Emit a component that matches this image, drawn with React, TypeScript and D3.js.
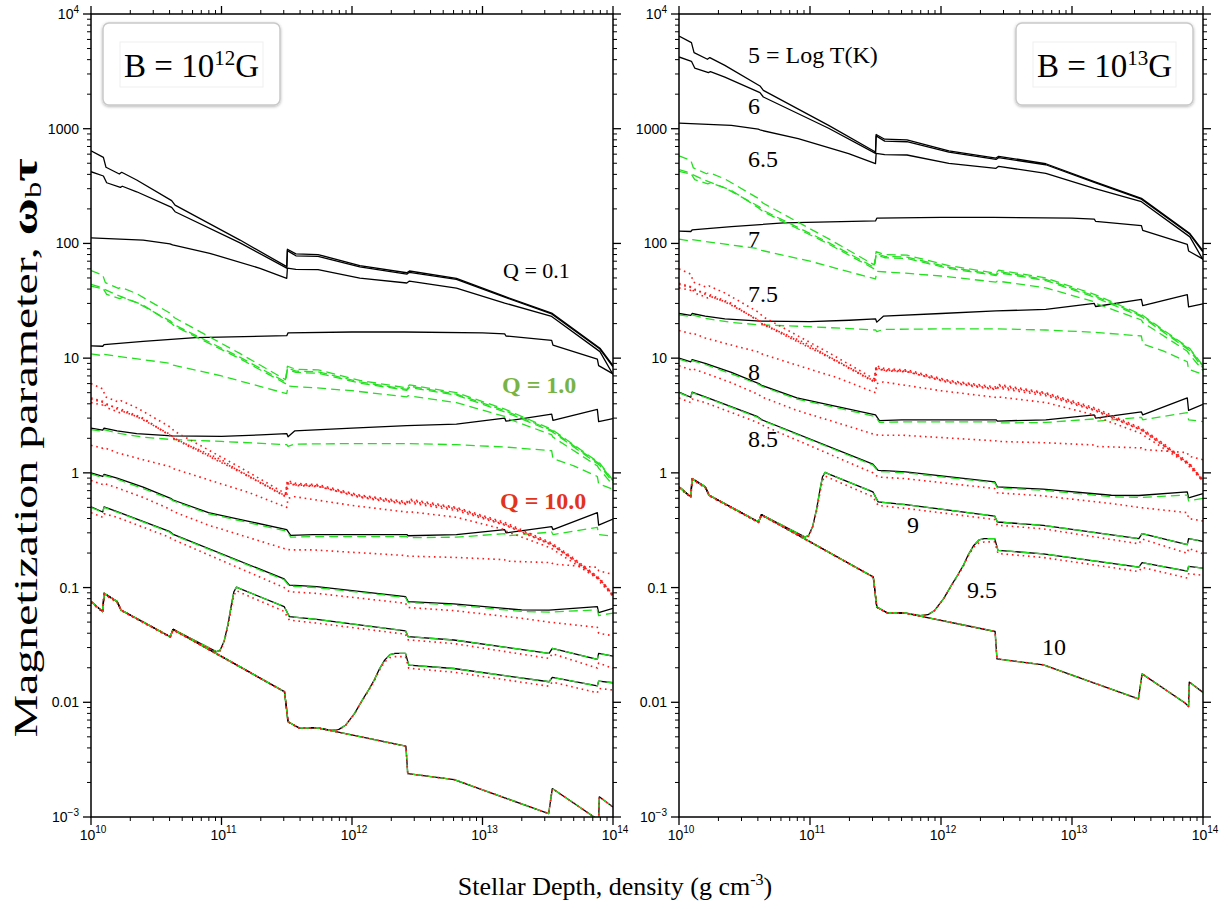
import React from "react";
import * as d3 from "d3";

type Pt = [number, number]; // [log10 density (g cm^-3), omega_b * tau at B = 1e12 G]

const W = 1230;
const H = 909;
const TOP = 14;
const BOTTOM = 817;
const PANELS = [
  { x0: 91, x1: 613 },
  { x0: 679, x1: 1203 },
];

// Magnetic field of each panel (G); omega_b tau scales linearly with B
const FIELD_STRENGTHS = [1e12, 1e13];
const FIELD_EXPONENTS = ["12", "13"];
const REFERENCE_FIELD = 1e12;

const X_TICK_LABELS = ["10^10", "10^11", "10^12", "10^13", "10^14"];
const Y_TICK_LABELS = ["10^−3", "0.01", "0.1", "1", "10", "100", "1000", "10^4"];
const TEMP_LABELS = ["5 = Log T(K)", "6", "6.5", "7", "7.5", "8", "8.5", "9", "9.5", "10"];
const Q_LABELS = ["Q = 0.1", "Q = 1.0", "Q = 10.0"];

// ---------- Q = 0.1 (black solid) ----------
const T5_Q01: Pt[] = [[10.0,643],[10.095,563],[10.115,461],[10.217,403],[10.235,417],[10.35,357],[10.618,236],[10.644,216],[11.142,107],[11.5,62.7],[11.505,89],[11.57,81],[11.74,80],[12.06,64],[12.42,55.5],[12.44,57.5],[12.8,49.5],[13.17,34.5],[13.53,24.7],[13.9,12.2],[14.0,8.6]];
const T6_Q01: Pt[] = [[10.0,422],[10.095,387],[10.12,338],[10.225,308],[10.24,315],[10.35,282],[10.618,206],[10.644,189],[11.142,101],[11.5,61],[11.505,86.6],[11.57,78],[11.74,77],[12.06,62.5],[12.42,54],[12.44,56],[12.8,48.5],[13.17,34],[13.53,24.3],[13.9,12.0],[14.0,8.4]];
const T65_Q01: Pt[] = [[10.0,112],[10.4,107],[10.605,99],[10.625,97],[10.91,82],[11.295,60.7],[11.5,49.6],[11.505,61],[11.57,59.5],[11.74,59],[12.06,49.8],[12.42,45.2],[12.44,47],[12.8,40.8],[13.17,30.2],[13.53,23.1],[13.9,11.4],[14.0,7.2]];
const T7_Q01: Pt[] = [[10.0,12.8],[10.09,12.7],[10.1,13.1],[10.4,14.0],[10.8,15.1],[11.5,15.7],[11.51,16.6],[12.0,16.9],[12.4,16.9],[13.0,16.6],[13.17,16.3],[13.18,15.6],[13.53,14.3],[13.54,13.0],[13.88,9.8],[13.89,8.6],[14.0,7.3]];
const T75_Q01: Pt[] = [[10.0,2.45],[10.09,2.36],[10.1,2.45],[10.2,2.32],[10.35,2.2],[10.62,2.1],[11.0,2.08],[11.3,2.14],[11.5,2.2],[11.51,2.06],[11.56,2.32],[12.0,2.45],[12.42,2.58],[12.8,2.66],[13.17,3.0],[13.18,2.82],[13.53,3.25],[13.54,2.87],[13.88,3.58],[13.89,2.8],[14.0,2.97]];
const T8_Q01: Pt[] = [[10.0,1.0],[10.09,0.93],[10.1,0.97],[10.2,0.9],[10.4,0.75],[10.61,0.6],[10.63,0.58],[10.9,0.45],[11.2,0.38],[11.5,0.32],[11.53,0.285],[11.7,0.29],[12.42,0.29],[12.43,0.283],[12.8,0.29],[13.17,0.32],[13.18,0.3],[13.53,0.34],[13.54,0.32],[13.88,0.45],[13.89,0.35],[14.0,0.395]];
const T85_Q01: Pt[] = [[10.0,0.505],[10.09,0.456],[10.1,0.505],[10.2,0.46],[10.6,0.309],[10.63,0.291],[11.48,0.119],[11.52,0.105],[11.6,0.104],[11.73,0.102],[12.41,0.0834],[12.43,0.0755],[12.78,0.072],[13.3,0.0638],[13.51,0.0635],[13.88,0.0683],[13.89,0.0605],[14.0,0.066]];
const T9_Q01: Pt[] = [[10.0,0.0755],[10.09,0.0617],[10.1,0.089],[10.2,0.0755],[10.23,0.0638],[10.607,0.0373],[10.629,0.0432],[10.963,0.0276],[10.99,0.0285],[11.02,0.034],[11.05,0.048],[11.075,0.07],[11.095,0.092],[11.115,0.101],[11.15,0.097],[11.48,0.0683],[11.52,0.0558],[11.73,0.0529],[12.41,0.042],[12.43,0.0373],[12.78,0.0349],[13.51,0.0267],[13.535,0.0295],[13.88,0.0237],[13.89,0.0267],[14.0,0.0253]];
const T95_Q01: Pt[] = [[10.0,0.0755],[10.09,0.0617],[10.1,0.089],[10.2,0.0755],[10.23,0.0638],[10.607,0.0373],[10.629,0.0432],[11.483,0.01236],[11.51,0.00676],[11.592,0.006],[11.729,0.006],[11.84,0.0057],[11.9,0.0058],[11.95,0.0063],[12.02,0.008],[12.08,0.0105],[12.13,0.013],[12.17,0.0156],[12.21,0.0195],[12.25,0.0233],[12.29,0.026],[12.33,0.0267],[12.41,0.0267],[12.435,0.0211],[12.78,0.0197],[13.51,0.0151],[13.535,0.0165],[13.88,0.0139],[13.89,0.0153],[14.0,0.0148]];
const T10_Q01: Pt[] = [[10.0,0.0755],[10.09,0.0617],[10.1,0.089],[10.2,0.0755],[10.23,0.0638],[10.607,0.0373],[10.629,0.0432],[11.483,0.01236],[11.51,0.00676],[11.592,0.006],[11.729,0.006],[12.413,0.00414],[12.427,0.00239],[12.782,0.00212],[13.507,0.00107],[13.535,0.00177],[13.863,0.000986],[13.89,0.00092],[13.895,0.0015],[14.0,0.00122]];

// ---------- Q = 1.0 (green dashed) ----------
const T5_Q1: Pt[] = [[10.0,58],[10.09,53],[10.11,45.5],[10.21,40.5],[10.23,41.5],[10.35,36.5],[10.61,24.5],[10.64,22.5],[11.14,11.0],[11.49,6.5],[11.505,8.5],[11.57,8.0],[11.74,7.9],[12.06,6.4],[12.42,5.5],[12.44,5.85],[12.8,5.0],[13.17,3.6],[13.53,2.4],[13.9,1.21],[14.0,0.86]];
const T6_Q1: Pt[] = [[10.0,44],[10.09,41],[10.12,36],[10.22,33],[10.24,33.8],[10.35,30.5],[10.61,21],[10.64,19.5],[11.14,10.2],[11.49,6.2],[11.505,8.2],[11.57,7.7],[11.74,7.6],[12.06,6.2],[12.42,5.35],[12.44,5.7],[12.8,4.85],[13.17,3.5],[13.53,2.35],[13.9,1.19],[14.0,0.85]];
const T65_Q1: Pt[] = [[10.0,42.5],[10.1,40],[10.2,35.5],[10.4,29],[10.61,20.3],[10.64,19.0],[11.14,9.9],[11.49,6.0],[11.505,8.0],[11.57,7.5],[11.74,7.4],[12.06,6.05],[12.42,5.25],[12.44,5.55],[12.8,4.75],[13.17,3.4],[13.53,2.3],[13.9,1.16],[14.0,0.82]];
const T7_Q1: Pt[] = [[10.0,10.9],[10.09,10.5],[10.1,10.8],[10.2,10.4],[10.61,9.0],[10.63,8.7],[11.0,7.0],[11.5,4.9],[11.51,5.7],[11.73,5.5],[12.0,5.2],[12.42,4.6],[12.43,4.7],[12.8,4.1],[13.17,3.1],[13.18,3.0],[13.53,2.15],[13.54,2.05],[13.88,1.15],[13.89,1.1],[14.0,0.78]];
const T75_Q1: Pt[] = [[10.0,2.38],[10.09,2.3],[10.1,2.38],[10.2,2.22],[10.4,2.05],[10.62,1.95],[11.0,1.88],[11.5,1.76],[11.51,1.7],[11.56,1.78],[12.0,1.8],[12.42,1.8],[12.8,1.76],[13.17,1.68],[13.53,1.56],[13.54,1.33],[13.7,1.15],[13.88,0.93],[13.89,0.8],[14.0,0.72]];
const T8_Q1: Pt[] = [[10.0,0.98],[10.09,0.91],[10.1,0.95],[10.2,0.88],[10.4,0.73],[10.61,0.59],[10.63,0.57],[10.9,0.44],[11.2,0.37],[11.5,0.31],[11.53,0.275],[11.7,0.278],[12.42,0.278],[12.43,0.272],[12.8,0.275],[13.17,0.295],[13.18,0.282],[13.53,0.305],[13.54,0.29],[13.88,0.335],[13.89,0.29],[14.0,0.28]];
const T85_Q1: Pt[] = [[10.0,0.5],[10.09,0.452],[10.1,0.5],[10.2,0.455],[10.6,0.305],[10.63,0.288],[11.48,0.117],[11.52,0.103],[11.6,0.102],[11.73,0.1],[12.41,0.082],[12.43,0.074],[12.78,0.0705],[13.3,0.062],[13.51,0.061],[13.88,0.064],[13.89,0.057],[14.0,0.06]];

// ---------- Q = 10.0 (red dotted) ----------
const T5_Q10: Pt[] = [[10.0,6.0],[10.09,5.4],[10.11,4.6],[10.21,4.15],[10.23,4.25],[10.35,3.7],[10.61,2.5],[10.64,2.3],[11.14,1.12],[11.49,0.66],[11.505,0.86],[11.57,0.81],[11.74,0.79],[12.06,0.64],[12.42,0.56],[12.44,0.59],[12.8,0.5],[13.17,0.37],[13.53,0.245],[13.7,0.18],[13.9,0.12],[14.0,0.087]];
const T6_Q10: Pt[] = [[10.0,4.5],[10.09,4.2],[10.12,3.7],[10.22,3.35],[10.24,3.45],[10.35,3.1],[10.61,2.15],[10.64,2.0],[11.14,1.04],[11.49,0.63],[11.505,0.83],[11.57,0.785],[11.74,0.77],[12.06,0.63],[12.42,0.545],[12.44,0.575],[12.8,0.49],[13.17,0.36],[13.53,0.24],[13.7,0.176],[13.9,0.118],[14.0,0.086]];
const T65_Q10: Pt[] = [[10.0,4.4],[10.1,4.1],[10.2,3.6],[10.4,2.95],[10.61,2.1],[10.64,1.97],[11.14,1.02],[11.49,0.62],[11.505,0.82],[11.57,0.775],[11.74,0.76],[12.06,0.62],[12.42,0.54],[12.44,0.565],[12.8,0.485],[13.17,0.355],[13.53,0.237],[13.7,0.174],[13.9,0.117],[14.0,0.085]];
const T7_Q10: Pt[] = [[10.0,4.1],[10.09,3.9],[10.1,4.0],[10.2,3.7],[10.4,3.0],[10.61,2.1],[10.63,2.0],[11.0,1.3],[11.14,1.03],[11.5,0.62],[11.51,0.8],[11.73,0.77],[12.06,0.61],[12.42,0.53],[12.43,0.55],[12.8,0.47],[13.17,0.35],[13.53,0.235],[13.7,0.172],[13.9,0.116],[14.0,0.084]];
const T75_Q10: Pt[] = [[10.0,1.74],[10.09,1.64],[10.1,1.66],[10.2,1.5],[10.4,1.3],[10.61,1.13],[10.63,1.09],[11.0,0.8],[11.2,0.68],[11.5,0.5],[11.51,0.6],[11.56,0.62],[12.0,0.52],[12.42,0.455],[12.43,0.46],[12.8,0.41],[13.17,0.32],[13.18,0.31],[13.53,0.22],[13.54,0.215],[13.88,0.12],[13.89,0.115],[14.0,0.084]];
const T8_Q10: Pt[] = [[10.0,0.86],[10.09,0.79],[10.1,0.81],[10.2,0.74],[10.4,0.61],[10.61,0.48],[10.63,0.46],[10.9,0.35],[11.2,0.275],[11.5,0.215],[11.53,0.213],[11.7,0.213],[12.42,0.19],[12.43,0.188],[12.8,0.183],[13.17,0.175],[13.18,0.17],[13.53,0.165],[13.54,0.16],[13.88,0.15],[13.89,0.14],[14.0,0.13]];
const T85_Q10: Pt[] = [[10.0,0.45],[10.09,0.41],[10.1,0.44],[10.2,0.41],[10.6,0.275],[10.63,0.262],[11.48,0.1],[11.52,0.092],[11.73,0.089],[12.41,0.073],[12.43,0.067],[12.78,0.063],[13.3,0.054],[13.51,0.05],[13.88,0.045],[13.89,0.04],[14.0,0.038]];
const T9_Q10: Pt[] = [[10.0,0.074],[10.09,0.061],[10.1,0.087],[10.2,0.074],[10.23,0.063],[10.607,0.0368],[10.629,0.0425],[10.963,0.0272],[10.99,0.028],[11.02,0.0335],[11.05,0.046],[11.075,0.066],[11.095,0.085],[11.115,0.094],[11.15,0.09],[11.48,0.062],[11.52,0.052],[11.73,0.049],[12.41,0.0392],[12.43,0.035],[12.78,0.0325],[13.51,0.0241],[13.535,0.0265],[13.88,0.0199],[13.89,0.022],[14.0,0.0197]];
const T95_Q10: Pt[] = [[10.0,0.0745],[10.09,0.0612],[10.1,0.088],[10.2,0.0748],[10.23,0.0633],[10.607,0.037],[10.629,0.0428],[11.483,0.0123],[11.51,0.00672],[11.592,0.00598],[11.729,0.00598],[11.84,0.00568],[11.9,0.00578],[11.95,0.00627],[12.02,0.00795],[12.08,0.0104],[12.13,0.0128],[12.17,0.0153],[12.21,0.019],[12.25,0.0225],[12.29,0.0245],[12.33,0.025],[12.41,0.025],[12.435,0.0198],[12.78,0.0183],[13.51,0.0138],[13.535,0.015],[13.88,0.0121],[13.89,0.0132],[14.0,0.0128]];

const SERIES: { t: string; q: number; data: Pt[] }[] = [
  { t: "5", q: 0.1, data: T5_Q01 }, { t: "6", q: 0.1, data: T6_Q01 }, { t: "6.5", q: 0.1, data: T65_Q01 },
  { t: "7", q: 0.1, data: T7_Q01 }, { t: "7.5", q: 0.1, data: T75_Q01 }, { t: "8", q: 0.1, data: T8_Q01 },
  { t: "8.5", q: 0.1, data: T85_Q01 }, { t: "9", q: 0.1, data: T9_Q01 }, { t: "9.5", q: 0.1, data: T95_Q01 },
  { t: "10", q: 0.1, data: T10_Q01 },
  { t: "5", q: 1.0, data: T5_Q1 }, { t: "6", q: 1.0, data: T6_Q1 }, { t: "6.5", q: 1.0, data: T65_Q1 },
  { t: "7", q: 1.0, data: T7_Q1 }, { t: "7.5", q: 1.0, data: T75_Q1 }, { t: "8", q: 1.0, data: T8_Q1 },
  { t: "8.5", q: 1.0, data: T85_Q1 }, { t: "9", q: 1.0, data: T9_Q01 }, { t: "9.5", q: 1.0, data: T95_Q01 },
  { t: "10", q: 1.0, data: T10_Q01 },
  { t: "5", q: 10.0, data: T5_Q10 }, { t: "6", q: 10.0, data: T6_Q10 }, { t: "6.5", q: 10.0, data: T65_Q10 },
  { t: "7", q: 10.0, data: T7_Q10 }, { t: "7.5", q: 10.0, data: T75_Q10 }, { t: "8", q: 10.0, data: T8_Q10 },
  { t: "8.5", q: 10.0, data: T85_Q10 }, { t: "9", q: 10.0, data: T9_Q10 }, { t: "9.5", q: 10.0, data: T95_Q10 },
  { t: "10", q: 10.0, data: T10_Q01 },
];

const STYLE_BY_Q: Record<string, { stroke: string; width: number; dash?: string }> = {
  "0.1": { stroke: "#000000", width: 1.3 },
  "1": { stroke: "#22e01e", width: 1.3, dash: "9,5" },
  "10": { stroke: "#ff1a1a", width: 1.6, dash: "1.6,3.8" },
};

// annotation layout (right panel temperature labels, left panel Q labels)
const TEMP_LABEL_POS: [number, number][] = [
  [748, 63], [748, 114], [748, 167], [748, 247], [748, 302], [748, 380], [748, 447], [907, 533], [967, 598], [1042, 655],
];
const Q_LABEL_POS: [number, number, string, string][] = [
  [503, 278, "#000000", "normal"],
  [502, 393, "#78b445", "bold"],
  [500, 509, "#e2341d", "bold"],
];

const SERIF = "'Liberation Serif', 'Times New Roman', Times, serif";
const SANS = "'Liberation Sans', Arial, Helvetica, sans-serif";

function PowLabel({ text, x, y, anchor, size, supSize, rise }: { text: string; x: number; y: number; anchor: string; size: number; supSize: number; rise: number }) {
  const parts = text.split("^");
  return (
    <text x={x} y={y} textAnchor={anchor} fontFamily={SANS} fontSize={size} fill="#000">
      {parts[0]}
      {parts.length > 1 && (
        <tspan fontSize={supSize} dy={-rise}>
          {parts[1]}
        </tspan>
      )}
    </text>
  );
}

function Panel({ idx }: { idx: number }) {
  const { x0, x1 } = PANELS[idx];
  const x = d3.scaleLog().domain([1e10, 1e14]).range([x0, x1]);
  const y = d3.scaleLog().domain([1e-3, 1e4]).range([BOTTOM, TOP]);
  const factor = FIELD_STRENGTHS[idx] / REFERENCE_FIELD;
  const line = d3
    .line<Pt>()
    .x((d) => x(Math.pow(10, d[0])))
    .y((d) => y(d[1] * factor));

  const xMajor = d3.range(10, 15).map((e) => Math.pow(10, e));
  const xMinor: number[] = [];
  for (let e = 10; e < 14; e++) for (let m = 2; m <= 9; m++) xMinor.push(m * Math.pow(10, e));
  const yMajor = d3.range(-3, 5).map((e) => Math.pow(10, e));
  const yMinor: number[] = [];
  for (let e = -3; e < 4; e++) for (let m = 2; m <= 9; m++) yMinor.push(m * Math.pow(10, e));

  const order = [0.1, 1.0, 10.0];
  const clipId = `clip${idx}`;
  const MAJ = 8;
  const MIN = 4;

  const bx = idx === 0 ? 103 : 1016;
  const bw = 177;

  return (
    <g>
      <defs>
        <clipPath id={clipId}>
          <rect x={x0} y={TOP} width={x1 - x0} height={BOTTOM - TOP} />
        </clipPath>
      </defs>
      <g clipPath={`url(#${clipId})`}>
        {order.map((q) =>
          SERIES.filter((s) => s.q === q).map((s, i) => {
            const st = STYLE_BY_Q[String(q)];
            return (
              <path
                key={`${q}-${i}`}
                d={line(s.data) || ""}
                fill="none"
                stroke={st.stroke}
                strokeWidth={st.width}
                strokeDasharray={st.dash}
                strokeLinejoin="round"
              />
            );
          })
        )}
      </g>
      <rect x={x0} y={TOP} width={x1 - x0} height={BOTTOM - TOP} fill="none" stroke="#000" strokeWidth={1.5} />
      {xMajor.map((v, i) => (
        <g key={`xM${i}`}>
          <line x1={x(v)} x2={x(v)} y1={BOTTOM} y2={BOTTOM + MAJ} stroke="#000" strokeWidth={1.3} />
          <line x1={x(v)} x2={x(v)} y1={TOP} y2={TOP - MAJ} stroke="#000" strokeWidth={1.3} />
        </g>
      ))}
      {xMinor.map((v, i) => (
        <g key={`xm${i}`}>
          <line x1={x(v)} x2={x(v)} y1={BOTTOM} y2={BOTTOM + MIN} stroke="#000" strokeWidth={1} />
          <line x1={x(v)} x2={x(v)} y1={TOP} y2={TOP - MIN} stroke="#000" strokeWidth={1} />
        </g>
      ))}
      {yMajor.map((v, i) => (
        <g key={`yM${i}`}>
          <line x1={x0} x2={x0 - MAJ} y1={y(v)} y2={y(v)} stroke="#000" strokeWidth={1.3} />
          <line x1={x1} x2={x1 + MAJ} y1={y(v)} y2={y(v)} stroke="#000" strokeWidth={1.3} />
        </g>
      ))}
      {yMinor.map((v, i) => (
        <g key={`ym${i}`}>
          <line x1={x0} x2={x0 - MIN} y1={y(v)} y2={y(v)} stroke="#000" strokeWidth={1} />
          <line x1={x1} x2={x1 + MIN} y1={y(v)} y2={y(v)} stroke="#000" strokeWidth={1} />
        </g>
      ))}
      {X_TICK_LABELS.map((t, i) => (
        <PowLabel key={`xl${i}`} text={t} x={x(xMajor[i]) + 2} y={840} anchor="middle" size={14} supSize={10} rise={7} />
      ))}
      {Y_TICK_LABELS.map((t, i) => (
        <PowLabel key={`yl${i}`} text={t} x={x0 - 12} y={y(yMajor[i]) + 5} anchor="end" size={14} supSize={10} rise={6} />
      ))}
      <rect x={bx} y={23} width={bw} height={82} rx={6} fill="#ffffff" stroke="#c9c9c9" strokeWidth={1.5} filter="url(#boxShadow)" />
      <rect x={bx + 17} y={42} width={bw - 34} height={45} fill="none" stroke="#efefef" strokeWidth={1} />
      <text x={bx + bw / 2} y={77} textAnchor="middle" fontFamily={SERIF} fontSize={33} fill="#000">
        B = 10
        <tspan fontSize={21} dy={-12}>
          {FIELD_EXPONENTS[idx]}
        </tspan>
        <tspan dy={12}>G</tspan>
      </text>
    </g>
  );
}

export default function App() {
  return (
    <svg
      width={W}
      height={H}
      viewBox={`0 0 ${W} ${H}`}
      style={{ position: "absolute", left: 0, top: 0, background: "#fff" }}
    >
      <defs>
        <filter id="boxShadow" x="-10%" y="-10%" width="120%" height="130%">
          <feDropShadow dx="0" dy="1" stdDeviation="1.6" floodColor="#000" floodOpacity="0.3" />
        </filter>
      </defs>
      <rect x={0} y={0} width={W} height={H} fill="#fff" />
      <Panel idx={0} />
      <Panel idx={1} />

      {TEMP_LABELS.map((t, i) => (
        <text key={`tl${i}`} x={TEMP_LABEL_POS[i][0]} y={TEMP_LABEL_POS[i][1]} fontFamily={SERIF} fontSize={24} fill="#000">
          {t}
        </text>
      ))}
      {Q_LABELS.map((t, i) => (
        <text
          key={`ql${i}`}
          x={Q_LABEL_POS[i][0]}
          y={Q_LABEL_POS[i][1]}
          fontFamily={SERIF}
          fontSize={i === 0 ? 22 : 24}
          fontWeight={Q_LABEL_POS[i][3]}
          fill={Q_LABEL_POS[i][2]}
        >
          {t}
        </text>
      ))}

      <text x={615} y={895} textAnchor="middle" fontFamily={SERIF} fontSize={26} fill="#000">
        Stellar Depth, density (g cm
        <tspan fontSize={16} dy={-10}>
          -3
        </tspan>
        <tspan dy={10}>)</tspan>
      </text>
      <text transform="translate(37,448) rotate(-90) scale(1.41,1)" textAnchor="middle" fontFamily={SERIF} fontSize={34} fill="#000">
        Magnetization parameter,{" "}
        <tspan fontWeight="bold" fontSize={36}>ω</tspan>
        <tspan fontSize={23} dy={4}>b</tspan>
        <tspan dy={-4} fontWeight="bold" fontSize={36}>τ</tspan>
      </text>
    </svg>
  );
}
